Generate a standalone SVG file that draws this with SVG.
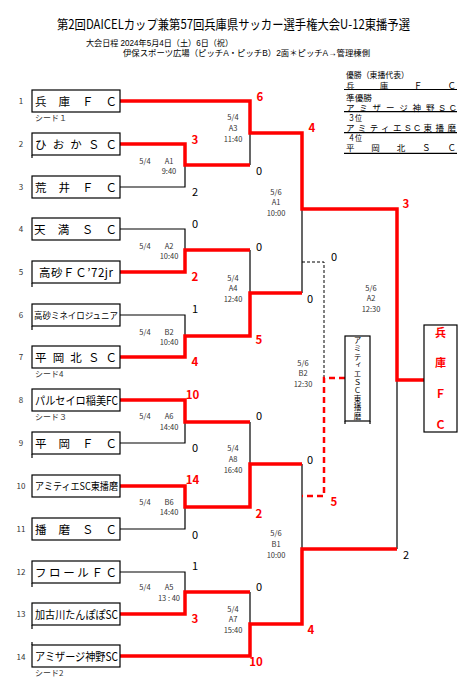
<svg xmlns="http://www.w3.org/2000/svg" width="472" height="692" viewBox="0 0 472 692">
<style>
text{font-family:"Noto Sans CJK JP","Noto Sans",sans-serif;fill:#000}
.lat{font-family:"Liberation Sans","Noto Sans CJK JP",sans-serif}
.box{fill:#fff;stroke:#000;stroke-width:1.2}
.tick{stroke:#000;stroke-width:1.2;fill:none}
.nm{font-size:11.5px}
.no{font-size:8px;fill:#333;text-anchor:middle}
.seed{font-size:8px;fill:#333}
.ml{font-size:7.5px;fill:#333;text-anchor:middle}
.sb{font-size:11px;text-anchor:middle}
.sr{font-size:11.5px;font-weight:bold;fill:#f00;text-anchor:middle}
.red{fill:none;stroke:#f00;stroke-width:3.5}
.blk{fill:none;stroke:#000;stroke-width:1.2}
.dblk{fill:none;stroke:#000;stroke-width:1;stroke-dasharray:3 2}
.dred{fill:none;stroke:#f00;stroke-width:2.5;stroke-dasharray:6 4}
.lg{font-size:8.5px}
.ul{stroke:#000;stroke-width:1.2}
.vt{writing-mode:vertical-rl;text-orientation:upright}
</style>

<g id="title">
<text x="57" y="29" font-size="13" textLength="353" lengthAdjust="spacingAndGlyphs">第2回DAICELカップ兼第57回兵庫県サッカー選手権大会U-12東播予選</text>
<text class="lat" x="86" y="46" font-size="8.5" textLength="147" lengthAdjust="spacingAndGlyphs">大会日程 2024年5月4日（土）6日（祝）</text>
<text class="lat" x="123" y="56.3" font-size="8.5" textLength="247" lengthAdjust="spacingAndGlyphs">伊保スポーツ広場（ピッチA・ピッチB）2面＊ピッチA→管理棟側</text>
</g>

<g id="legend">
<text class="lg lat" x="346" y="78.2" textLength="63" lengthAdjust="spacingAndGlyphs">優勝（東播代表）</text>
<text class="lg lat" x="346" y="89" textLength="110" lengthAdjust="spacing">兵庫ＦＣ</text>
<line class="ul" x1="344" y1="89.5" x2="457" y2="89.5"/>
<text class="lg lat" x="346" y="101" textLength="26" lengthAdjust="spacingAndGlyphs">準優勝</text>
<text class="lg lat" x="346" y="111" textLength="110" lengthAdjust="spacing">アミザージ神野SC</text>
<line class="ul" x1="344" y1="111.7" x2="457" y2="111.7"/>
<text class="lg lat" x="348" y="121" textLength="14" lengthAdjust="spacingAndGlyphs">３位</text>
<text class="lg lat" x="346" y="131" textLength="110" lengthAdjust="spacing">アミティエSC東播磨</text>
<line class="ul" x1="344" y1="132.7" x2="457" y2="132.7"/>
<text class="lg lat" x="348" y="141" textLength="14" lengthAdjust="spacingAndGlyphs">４位</text>
<text class="lg lat" x="346" y="151" textLength="110" lengthAdjust="spacing">平岡北ＳＣ</text>
<line class="ul" x1="344" y1="153.3" x2="457" y2="153.3"/>
</g>

<g id="connectors">
<path class="blk" d="M120,187 H185 V165"/>
<path class="blk" d="M250,165 V133"/>
<path class="blk" d="M120,229 H185 V250"/>
<path class="blk" d="M120,315 H185 V336"/>
<path class="blk" d="M250,250 V293"/>
<path class="blk" d="M302,293 V209"/>
<path class="blk" d="M120,443 H185 V422"/>
<path class="blk" d="M250,422 V464"/>
<path class="blk" d="M120,529 H185 V507"/>
<path class="blk" d="M120,572 H185 V592"/>
<path class="blk" d="M250,592 V624"/>
<path class="blk" d="M302,464 V549"/>
<path class="blk" d="M397,549 V380"/>
<path class="dblk" d="M302,262 H324 V378"/>
<path class="dred" d="M345,378 H324 V496 H302"/>
<path class="red" d="M120,101 H250 V133 H302 V209 H397 V380 H424"/>
<path class="red" d="M120,144 H185 V165 H250"/>
<path class="red" d="M120,272 H185 V250 H250"/>
<path class="red" d="M120,357 H185 V336 H250 V293 H302"/>
<path class="red" d="M120,400 H185 V422 H250"/>
<path class="red" d="M120,486 H185 V507 H250 V464 H302"/>
<path class="red" d="M120,614 H185 V592 H250"/>
<path class="red" d="M120,656 H250 V624 H302 V549 H397"/>
</g>

<g id="team-1"><text class="no" x="21" y="104">1</text><rect class="box" x="32" y="90" width="88" height="22"/><text class="nm" x="35" y="105.5" textLength="82" lengthAdjust="spacing">兵庫ＦＣ</text><text class="seed" x="35" y="121">シード１</text></g>
<g id="team-2"><text class="no" x="21" y="147">2</text><rect class="box" x="32" y="133" width="88" height="22"/><path class="tick" d="M32,155 V158"/><text class="nm" x="35" y="148.5" textLength="82" lengthAdjust="spacing">ひおかＳＣ</text></g>
<g id="team-3"><text class="no" x="21" y="190">3</text><rect class="box" x="32" y="176" width="88" height="22"/><text class="nm" x="35" y="191.5" textLength="82" lengthAdjust="spacing">荒井ＦＣ</text></g>
<g id="team-4"><text class="no" x="21" y="232">4</text><rect class="box" x="32" y="218" width="88" height="22"/><text class="nm" x="34" y="233.5" textLength="83" lengthAdjust="spacing">天満ＳＣ</text></g>
<g id="team-5"><text class="no" x="21" y="275">5</text><rect class="box" x="32" y="261" width="88" height="22"/><path class="tick" d="M32,283 V287"/><text class="nm" x="39" y="276.5" textLength="74" lengthAdjust="spacing">高砂ＦＣ’72jr</text></g>
<g id="team-6"><text class="no" x="21" y="318">6</text><rect class="box" x="32" y="304" width="88" height="22"/><path class="tick" d="M32,326 V330"/><text x="34" y="318.5" font-size="9" textLength="84" lengthAdjust="spacingAndGlyphs">高砂ミネイロジュニア</text></g>
<g id="team-7"><text class="no" x="21" y="360">7</text><rect class="box" x="32" y="346" width="88" height="22"/><text class="nm" x="35" y="361.5" textLength="82" lengthAdjust="spacing">平岡北ＳＣ</text><text class="seed" x="35" y="377">シード4</text></g>
<g id="team-8"><text class="no" x="21" y="403">8</text><rect class="box" x="32" y="389" width="88" height="22"/><text class="nm" x="35" y="404.5" textLength="83" lengthAdjust="spacingAndGlyphs">パルセイロ稲美FC</text><text class="seed" x="35" y="420">シード３</text></g>
<g id="team-9"><text class="no" x="21" y="446">9</text><rect class="box" x="32" y="432" width="88" height="22"/><path class="tick" d="M32,454 V458"/><text class="nm" x="35" y="447.5" textLength="82" lengthAdjust="spacing">平岡ＦＣ</text></g>
<g id="team-10"><text class="no" x="21" y="489">10</text><rect class="box" x="32" y="475" width="88" height="22"/><text x="35" y="490" font-size="10.5" textLength="83" lengthAdjust="spacingAndGlyphs">アミティエSC東播磨</text></g>
<g id="team-11"><text class="no" x="21" y="532">11</text><rect class="box" x="32" y="518" width="88" height="22"/><text class="nm" x="35" y="533.5" textLength="82" lengthAdjust="spacing">播磨ＳＣ</text></g>
<g id="team-12"><text class="no" x="21" y="575">12</text><rect class="box" x="32" y="561" width="88" height="22"/><path class="tick" d="M32,583 V587"/><text class="nm" x="35" y="576.5" textLength="82" lengthAdjust="spacing">フロールＦＣ</text></g>
<g id="team-13"><text class="no" x="21" y="617">13</text><rect class="box" x="32" y="603" width="88" height="22"/><path class="tick" d="M32,625 V629"/><text class="nm" x="35" y="618.5" textLength="83" lengthAdjust="spacingAndGlyphs">加古川たんぽぽSC</text></g>
<g id="team-14"><text class="no" x="21" y="660">14</text><rect class="box" x="32" y="645" width="88" height="22"/><path class="tick" d="M32,642 V645"/><text class="nm" x="35" y="660.5" textLength="83" lengthAdjust="spacingAndGlyphs">アミザージ神野SC</text><text class="seed" x="35" y="676">シード2</text></g>

<g id="champion">
<rect class="box" x="424" y="325" width="33" height="107"/>
<text class="vt" x="440.5" y="327" font-size="11" font-weight="bold" style="fill:#f00" textLength="103" lengthAdjust="spacing">兵庫ＦＣ</text>
</g>

<g id="third-place">
<rect class="box" x="345" y="336" width="25" height="85"/>
<path class="tick" d="M345,421 V424 M370,421 V424"/>
<text class="vt" x="357.5" y="336.5" font-size="7.5" textLength="83" lengthAdjust="spacing">アミティエＳＣ東播磨</text>
</g>

<g id="scores">
<text class="sr" x="260" y="101">6</text>
<text class="sr" x="195" y="144">3</text>
<text class="sb" x="195" y="196">2</text>
<text class="sb" x="259" y="175">0</text>
<text class="sr" x="312" y="132">4</text>
<text class="sb" x="195" y="228">0</text>
<text class="sr" x="195" y="281">2</text>
<text class="sb" x="195" y="313">1</text>
<text class="sr" x="195" y="366">4</text>
<text class="sb" x="259" y="251">0</text>
<text class="sr" x="259" y="344">5</text>
<text class="sb" x="310" y="303">0</text>
<text class="sr" x="406" y="208">3</text>
<text class="sb" x="334" y="261">0</text>
<text class="sr" x="334" y="506">5</text>
<text class="sr" x="192.5" y="399">10</text>
<text class="sb" x="195" y="452">0</text>
<text class="sr" x="192.5" y="484">14</text>
<text class="sb" x="195" y="539">0</text>
<text class="sb" x="259" y="420">0</text>
<text class="sr" x="259" y="518">2</text>
<text class="sb" x="310" y="464">0</text>
<text class="sb" x="195" y="570">1</text>
<text class="sr" x="195" y="623">3</text>
<text class="sb" x="259" y="591">0</text>
<text class="sr" x="256" y="666">10</text>
<text class="sr" x="311" y="634">4</text>
<text class="sb" x="406" y="559">2</text>
</g>

<g id="match-labels">
<text class="ml" x="145" y="164">5/4</text><text class="ml" x="169" y="164">A1</text><text class="ml" x="169" y="174">9:40</text>
<text class="ml" x="233" y="120">5/4</text><text class="ml" x="233" y="131">A3</text><text class="ml" x="233" y="142">11:40</text>
<text class="ml" x="145" y="249">5/4</text><text class="ml" x="169" y="249">A2</text><text class="ml" x="169" y="259">10:40</text>
<text class="ml" x="145" y="335">5/4</text><text class="ml" x="169" y="335">B2</text><text class="ml" x="169" y="345">10:40</text>
<text class="ml" x="233" y="281">5/4</text><text class="ml" x="233" y="291">A4</text><text class="ml" x="233" y="302">12:40</text>
<text class="ml" x="276" y="195">5/6</text><text class="ml" x="276" y="205">A1</text><text class="ml" x="276" y="216">10:00</text>
<text class="ml" x="371" y="291">5/6</text><text class="ml" x="371" y="301">A2</text><text class="ml" x="371" y="312">12:30</text>
<text class="ml" x="303" y="366">5/6</text><text class="ml" x="303" y="376">B2</text><text class="ml" x="303" y="387">12:30</text>
<text class="ml" x="145" y="419">5/4</text><text class="ml" x="169" y="419">A6</text><text class="ml" x="169" y="430">14:40</text>
<text class="ml" x="145" y="505">5/4</text><text class="ml" x="169" y="505">B6</text><text class="ml" x="169" y="515">14:40</text>
<text class="ml" x="233" y="451">5/4</text><text class="ml" x="233" y="462">A8</text><text class="ml" x="233" y="473">16:40</text>
<text class="ml" x="145" y="590">5/4</text><text class="ml" x="169" y="590">A5</text><text class="ml" x="169" y="601">13 : 40</text>
<text class="ml" x="233" y="612">5/4</text><text class="ml" x="233" y="622">A7</text><text class="ml" x="233" y="633">15:40</text>
<text class="ml" x="276" y="536">5/6</text><text class="ml" x="276" y="547">B1</text><text class="ml" x="276" y="558">10:00</text>
</g>
</svg>
